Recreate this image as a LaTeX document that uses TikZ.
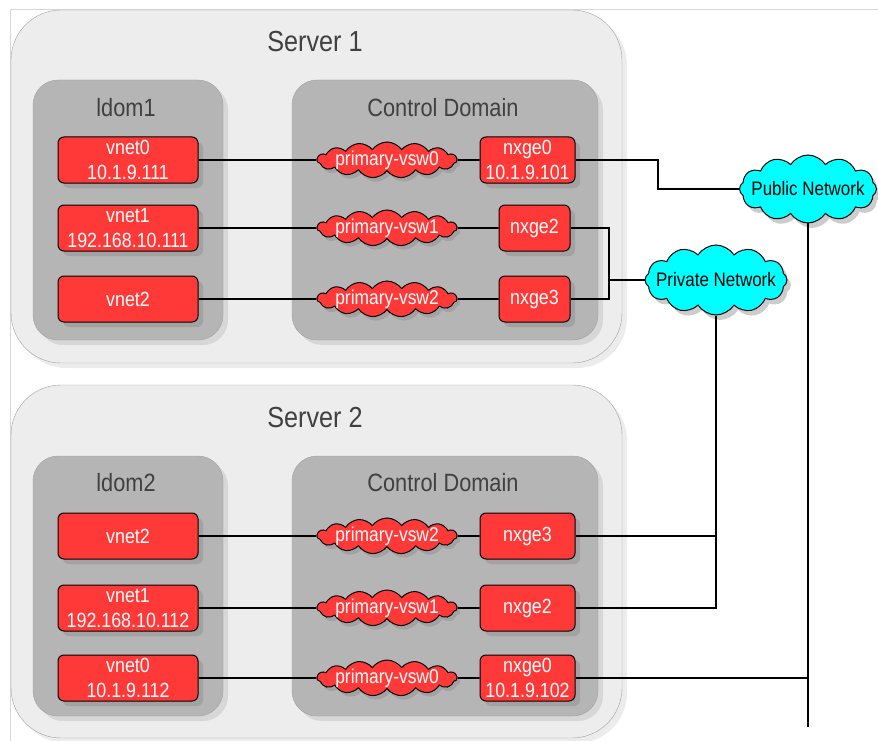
\documentclass[tikz,border=0pt]{standalone}
\usepackage{fontspec}
\setmainfont{Liberation Sans}
\newfontfamily\narrowsans{Liberation Sans}[FakeStretch=0.87]
\usepackage{tikz}
\usetikzlibrary{shapes.symbols,shadows}
\definecolor{srvfill}{RGB}{237,237,237}
\definecolor{domfill}{RGB}{181,181,181}
\definecolor{boxedge}{RGB}{160,160,160}
\definecolor{nicred}{RGB}{255,56,56}
\definecolor{netcyan}{RGB}{0,255,255}
\definecolor{titlegray}{RGB}{64,64,64}
\definecolor{framegray}{RGB}{215,215,215}

\begin{document}
\begin{tikzpicture}[x=1pt,y=-1pt,
    srvbox/.style={draw=boxedge,fill=srvfill,rounded corners=50pt,
      minimum width=611pt,minimum height=353pt,
      drop shadow={shadow xshift=5pt,shadow yshift=-5pt,opacity=0.15}},
    dombox/.style={draw=boxedge,fill=domfill,rounded corners=25pt,minimum height=260pt,
      drop shadow={shadow xshift=5pt,shadow yshift=-5pt,opacity=0.2}},
    srvtitle/.style={text=titlegray,font=\narrowsans\fontsize{29pt}{34pt}\selectfont},
    domtitle/.style={text=titlegray,font=\narrowsans\fontsize{25pt}{30pt}\selectfont},
    nicbox/.style={draw=black,line width=1pt,fill=nicred,rounded corners=6pt,
      minimum height=46pt,inner sep=0pt,text=white,align=center,
      font=\narrowsans\fontsize{20.5pt}{24.5pt}\selectfont,
      drop shadow={shadow xshift=5pt,shadow yshift=-5pt,opacity=0.35}},
    vswcloud/.style={cloud,cloud puffs=15,cloud puff arc=110,cloud ignores aspect,
      draw=black,line width=1pt,fill=nicred,minimum width=140pt,minimum height=36pt,
      inner sep=0pt,drop shadow={shadow xshift=3pt,shadow yshift=-4pt,opacity=0.35}},
    vswtext/.style={text=white,font=\narrowsans\fontsize{20pt}{24pt}\selectfont},
    netcloud/.style={cloud,cloud puffs=12,cloud puff arc=115,cloud ignores aspect,
      draw=black,line width=1pt,fill=netcyan,inner sep=0pt,
      drop shadow={shadow xshift=4pt,shadow yshift=-5pt,opacity=0.4}},
    nettext/.style={text=black,font=\narrowsans\fontsize{19.5pt}{23pt}\selectfont},
    wire/.style={line width=1.6pt,black}]
  \useasboundingbox (0,0) rectangle (878,741);
  \draw[framegray] (10,741) -- (10,9) -- (878,9);

  % server 1
  \node[srvbox] (srv1) at (316.5,186.5) {};
  \node[srvtitle] (srv1t) at (315,42) {Server 1};
  \node[dombox,minimum width=190pt] (ldom1) at (128,210) {};
  \node[domtitle] (ldom1t) at (126,108) {ldom1};
  \node[dombox,minimum width=306pt] (cd1) at (445,210) {};
  \node[domtitle] (cd1t) at (443,108) {Control Domain};

  \node[nicbox,minimum width=140pt] (s1vnet0) at (128,160) {vnet0\\10.1.9.111};
  \node[nicbox,minimum width=140pt] (s1vnet1) at (128,228) {vnet1\\192.168.10.111};
  \node[nicbox,minimum width=140pt] (s1vnet2) at (128,299) {vnet2};
  \node[vswcloud,label={[vswtext]center:primary-vsw0}] (s1vsw0) at (387,160) {};
  \node[vswcloud,label={[vswtext]center:primary-vsw1}] (s1vsw1) at (387,228) {};
  \node[vswcloud,label={[vswtext]center:primary-vsw2}] (s1vsw2) at (387,299) {};
  \node[nicbox,minimum width=95pt] (s1nx0) at (527.5,160) {nxge0\\10.1.9.101};
  \node[nicbox,minimum width=71pt] (s1nx2) at (534.5,228) {nxge2};
  \node[nicbox,minimum width=71pt] (s1nx3) at (534.5,299) {nxge3};

  % server 2
  \node[srvbox] (srv2) at (316.5,561.5) {};
  \node[srvtitle] (srv2t) at (315,418) {Server 2};
  \node[dombox,minimum width=190pt] (ldom2) at (128,586) {};
  \node[domtitle] (ldom2t) at (126,483) {ldom2};
  \node[dombox,minimum width=306pt] (cd2) at (445,586) {};
  \node[domtitle] (cd2t) at (443,483) {Control Domain};

  \node[nicbox,minimum width=140pt] (s2vnet2) at (128,536) {vnet2};
  \node[nicbox,minimum width=140pt] (s2vnet1) at (128,608) {vnet1\\192.168.10.112};
  \node[nicbox,minimum width=140pt] (s2vnet0) at (128,678) {vnet0\\10.1.9.112};
  \node[vswcloud,label={[vswtext]center:primary-vsw2}] (s2vsw2) at (387,536) {};
  \node[vswcloud,label={[vswtext]center:primary-vsw1}] (s2vsw1) at (387,608) {};
  \node[vswcloud,label={[vswtext]center:primary-vsw0}] (s2vsw0) at (387,678) {};
  \node[nicbox,minimum width=95pt] (s2nx3) at (527.5,536) {nxge3};
  \node[nicbox,minimum width=95pt] (s2nx2) at (527.5,608) {nxge2};
  \node[nicbox,minimum width=95pt] (s2nx0) at (527.5,678) {nxge0\\10.1.9.102};

  % networks
  \node[netcloud,minimum width=137pt,minimum height=68pt,label={[nettext]center:Public Network}] (pub) at (808,189) {};
  \node[netcloud,minimum width=142pt,minimum height=70pt,label={[nettext]center:Private Network}] (priv) at (716,280) {};
  \coordinate (bend1) at (658,0);
  \coordinate (bend2) at (609,0);
  \coordinate (pubend) at (808,727);

  % wires
  \foreach \s in {1,2} {
    \foreach \n in {0,1,2} {
      \draw[wire] (s\s vnet\n.east) -- (s\s vsw\n.west);
    }
  }
  \draw[wire] (s1vsw0.east) -- (s1nx0.west);
  \draw[wire] (s1vsw1.east) -- (s1nx2.west);
  \draw[wire] (s1vsw2.east) -- (s1nx3.west);
  \draw[wire] (s2vsw2.east) -- (s2nx3.west);
  \draw[wire] (s2vsw1.east) -- (s2nx2.west);
  \draw[wire] (s2vsw0.east) -- (s2nx0.west);
  \draw[wire] (s1nx0.east) -| (bend1 |- pub.west) -- (pub.west);
  \draw[wire] (s1nx2.east) -| (bend2 |- s1nx3.east) -- (s1nx3.east);
  \draw[wire] (bend2 |- priv.west) -- (priv.west);
  \draw[wire] (priv.south) |- (s2nx2.east);
  \draw[wire] (s2nx3.east) -- (s2nx3.east -| priv.south);
  \draw[wire] (pub.south) -- (pubend);
  \draw[wire] (s2nx0.east) -- (s2nx0.east -| pubend);
\end{tikzpicture}
\end{document}
